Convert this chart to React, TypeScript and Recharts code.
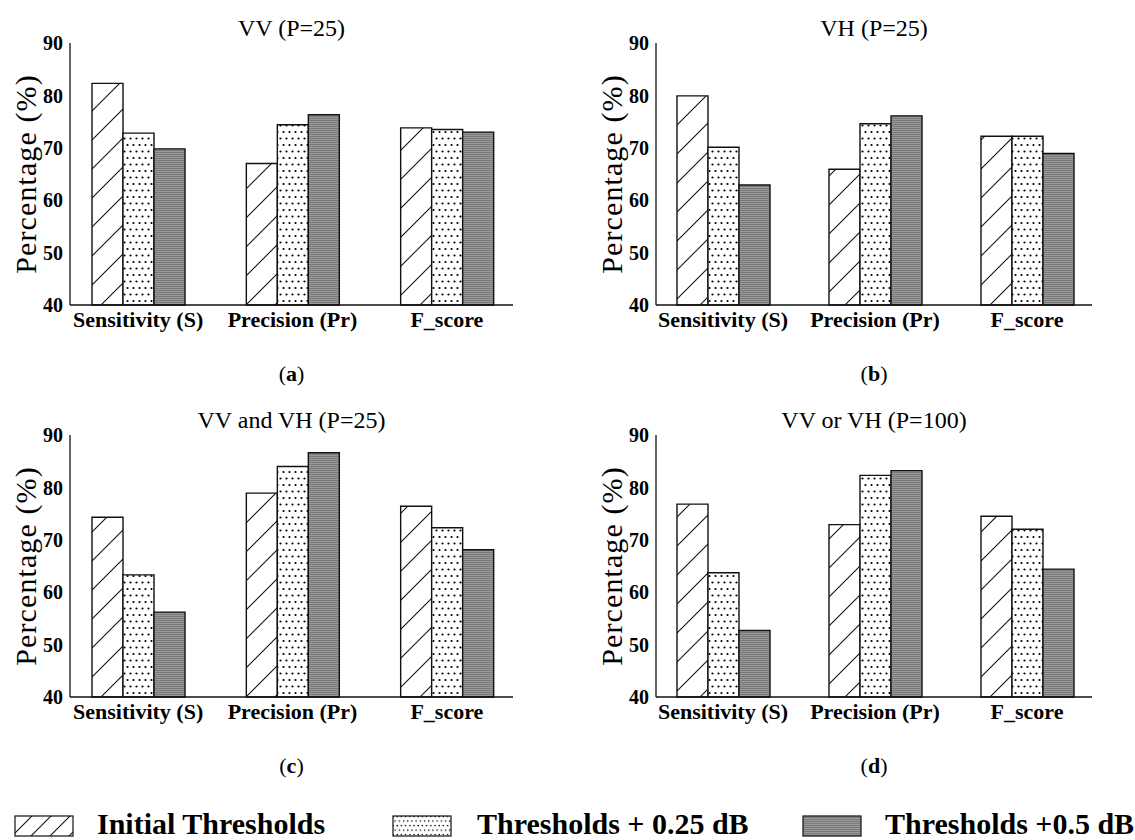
import React from "react";
import { BarChart, Bar, XAxis, YAxis } from "recharts";

const categories = ["Sensitivity (S)", "Precision (Pr)", "F_score"];
const yTicks = [40, 50, 60, 70, 80, 90];

// (a) VV (P=25)
const vvInitial = [82.3, 67.0, 73.8];
const vvPlus025 = [72.8, 74.4, 73.5];
const vvPlus05 = [69.8, 76.3, 73.0];
// (b) VH (P=25)
const vhInitial = [79.9, 65.9, 72.2];
const vhPlus025 = [70.1, 74.6, 72.2];
const vhPlus05 = [62.9, 76.1, 68.9];
// (c) VV and VH (P=25)
const andInitial = [74.3, 78.9, 76.4];
const andPlus025 = [63.3, 84.0, 72.3];
const andPlus05 = [56.2, 86.6, 68.1];
// (d) VV or VH (P=100)
const orInitial = [76.8, 72.9, 74.5];
const orPlus025 = [63.7, 82.3, 72.0];
const orPlus05 = [52.7, 83.2, 64.4];

const FONT = "'Liberation Serif', 'Times New Roman', serif";
const INK = "#111";

const Patterns = ({ id, hatch = 29, dot = 1 }: { id: string; hatch?: number; dot?: number }) => (
  <defs>
    <pattern id={`hatch-${id}`} patternUnits="userSpaceOnUse" width={hatch} height={hatch}>
      <rect width={hatch} height={hatch} fill="#fff" />
      <path
        d={`M0,${hatch} L${hatch},0 M-2,2 L2,-2 M${hatch - 2},${hatch + 2} L${hatch + 2},${hatch - 2}`}
        stroke={INK}
        strokeWidth={1.1}
      />
    </pattern>
    <pattern id={`dots-${id}`} patternUnits="userSpaceOnUse" width={6 * dot} height={13 * dot}>
      <rect width={6 * dot} height={13 * dot} fill="#fff" />
      <circle cx={1.5 * dot} cy={2 * dot} r={1.1 * dot} fill="#000" />
      <circle cx={4.5 * dot} cy={8.5 * dot} r={1.1 * dot} fill="#000" />
    </pattern>
    <pattern id={`gray-${id}`} patternUnits="userSpaceOnUse" width={4} height={2}>
      <rect width={4} height={1} fill="#7a7a7a" />
      <rect y={1} width={4} height={1} fill="#999" />
    </pattern>
  </defs>
);

interface PanelProps {
  id: string;
  title: string;
  letter: string;
  initial: number[];
  plus025: number[];
  plus05: number[];
  left: number;
  top: number;
  width: number;
  axisWidth: number;
  rightMargin: number;
}

const Panel = ({ id, title, letter, initial, plus025, plus05, left, top, width, axisWidth, rightMargin }: PanelProps) => {
  const data = categories.map((cat, i) => ({
    cat,
    initial: initial[i],
    plus025: plus025[i],
    plus05: plus05[i],
  }));
  const plotLeft = left + axisWidth;
  const plotRight = left + width - rightMargin;
  const center = (plotLeft + plotRight) / 2;
  return (
    <>
      <div
        style={{
          position: "absolute",
          left: center - 200,
          width: 400,
          top: top + 14,
          textAlign: "center",
          fontSize: 24,
          lineHeight: "28px",
          fontFamily: FONT,
        }}
      >
        {title}
      </div>
      <div style={{ position: "absolute", left, top }}>
        <BarChart
          width={width}
          height={345}
          data={data}
          margin={{ top: 43, right: rightMargin, bottom: 0, left: 0 }}
          barGap={0}
          barSize={31}
        >
          <Patterns id={id} />
          <XAxis
            dataKey="cat"
            height={40}
            padding={{ left: -9, right: -11 }}
            tickLine={false}
            tickSize={0}
            tickMargin={6}
            axisLine={{ stroke: INK, strokeWidth: 1.3 }}
            tick={{ fill: "#000", fontSize: 22, fontWeight: "bold", fontFamily: FONT }}
          />
          <XAxis
            xAxisId="top"
            orientation="top"
            dataKey="cat"
            height={0}
            tick={false}
            tickLine={false}
            axisLine={{ stroke: INK, strokeWidth: 1.3 }}
          />
          <YAxis
            domain={[40, 90]}
            ticks={yTicks}
            width={axisWidth}
            tickLine={false}
            tickSize={0}
            tickMargin={7}
            axisLine={{ stroke: INK, strokeWidth: 1.3 }}
            tick={{ fill: "#000", fontSize: 20, fontWeight: "bold", fontFamily: FONT }}
            label={{
              content: (p: any) => {
                const vb = p.viewBox || {};
                const x = vb.x + vb.width - 45;
                const y = vb.y + vb.height / 2;
                return (
                  <text
                    x={x}
                    y={y}
                    dy="0.35em"
                    textAnchor="middle"
                    transform={`rotate(-90, ${x}, ${y})`}
                    fontFamily={FONT}
                    fontSize={30}
                    letterSpacing={1.1}
                    fill="#000"
                  >
                    Percentage (%)
                  </text>
                );
              },
            }}
          />
          <YAxis
            yAxisId="right"
            orientation="right"
            domain={[40, 90]}
            width={0}
            tick={false}
            tickLine={false}
            axisLine={{ stroke: INK, strokeWidth: 1.3 }}
          />
          <Bar dataKey="initial" fill={`url(#hatch-${id})`} stroke={INK} strokeWidth={1.4} isAnimationActive={false} />
          <Bar dataKey="plus025" fill={`url(#dots-${id})`} stroke={INK} strokeWidth={1.4} isAnimationActive={false} />
          <Bar dataKey="plus05" fill={`url(#gray-${id})`} stroke={INK} strokeWidth={1.4} isAnimationActive={false} />
        </BarChart>
      </div>
      <div
        style={{
          position: "absolute",
          left: center - 50,
          width: 100,
          top: top + 361,
          textAlign: "center",
          fontSize: 22,
          lineHeight: "26px",
          fontFamily: FONT,
        }}
      >
        (<b>{letter}</b>)
      </div>
    </>
  );
};

const LegendSwatch = ({ kind }: { kind: string }) => (
  <svg width={60} height={22} style={{ display: "block" }}>
    <Patterns id={`lg-${kind}`} hatch={19} dot={0.7} />
    <rect
      x={1}
      y={1}
      width={58}
      height={20}
      fill={`url(#${kind}-lg-${kind})`}
      stroke={INK}
      strokeWidth={1.2}
    />
  </svg>
);

const legendItems = [
  { kind: "hatch", label: "Initial Thresholds", x: 14, textX: 97 },
  { kind: "dots", label: "Thresholds + 0.25 dB", x: 392, textX: 477 },
  { kind: "gray", label: "Thresholds +0.5 dB", x: 802, textX: 885 },
];

const App = () => (
  <div
    style={{
      position: "absolute",
      left: 0,
      top: 0,
      width: 1135,
      height: 840,
      background: "#fff",
      overflow: "hidden",
      fontFamily: FONT,
    }}
  >
    <Panel id="a" title="VV (P=25)" letter="a" initial={vvInitial} plus025={vvPlus025} plus05={vvPlus05}
      left={0} top={0} width={560} axisWidth={70} rightMargin={47} />
    <Panel id="b" title="VH (P=25)" letter="b" initial={vhInitial} plus025={vhPlus025} plus05={vhPlus05}
      left={570} top={0} width={565} axisWidth={86} rightMargin={43} />
    <Panel id="c" title="VV and VH (P=25)" letter="c" initial={andInitial} plus025={andPlus025} plus05={andPlus05}
      left={0} top={392} width={560} axisWidth={70} rightMargin={47} />
    <Panel id="d" title="VV or VH (P=100)" letter="d" initial={orInitial} plus025={orPlus025} plus05={orPlus05}
      left={570} top={392} width={565} axisWidth={86} rightMargin={43} />
    {legendItems.map((it) => (
      <React.Fragment key={it.kind}>
        <div style={{ position: "absolute", left: it.x, top: 815 }}>
          <LegendSwatch kind={it.kind} />
        </div>
        <div
          style={{
            position: "absolute",
            left: it.textX,
            top: 807,
            fontSize: 30,
            lineHeight: "34px",
            fontWeight: "bold",
            whiteSpace: "nowrap",
          }}
        >
          {it.label}
        </div>
      </React.Fragment>
    ))}
  </div>
);

export default App;
